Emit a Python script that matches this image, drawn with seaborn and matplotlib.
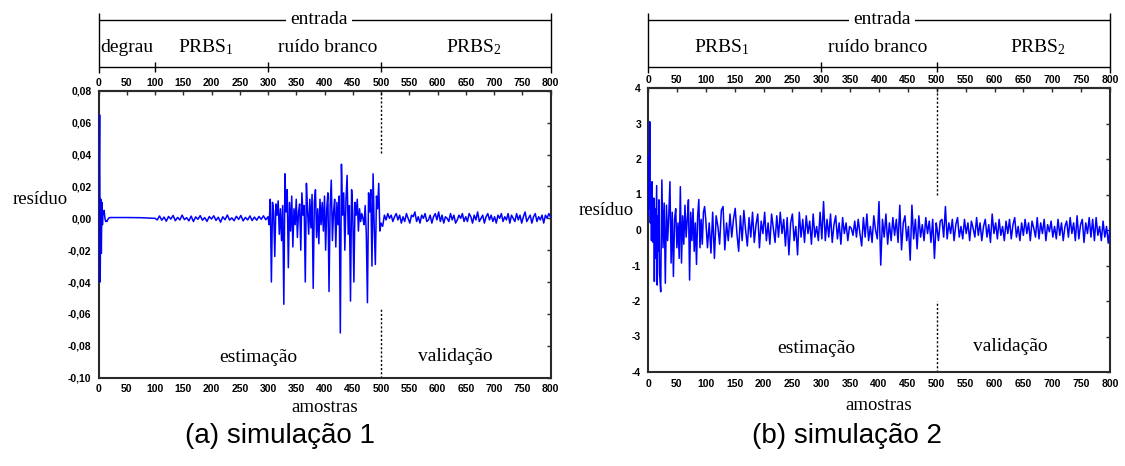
import numpy as np
import pandas as pd
import matplotlib
matplotlib.use("Agg")
import matplotlib.pyplot as plt
import seaborn as sns

# ------------------------------------------------------------------
# DATA
# ------------------------------------------------------------------
x_ticks = [0, 50, 100, 150, 200, 250, 300, 350, 400, 450, 500, 550, 600, 650, 700, 750, 800]
x_tick_labels = [str(v) for v in x_ticks]

a_y_ticks = [0.08, 0.06, 0.04, 0.02, 0.00, -0.02, -0.04, -0.06, -0.08, -0.10]
a_y_labels = ["0,08", "0,06", "0,04", "0,02", "0,00", "-0,02", "-0,04", "-0,06", "-0,08", "-0,10"]
b_y_ticks = [4, 3, 2, 1, 0, -1, -2, -3, -4]
b_y_labels = ["4", "3", "2", "1", "0", "-1", "-2", "-3", "-4"]

# simulação 1 : segments (first sample, sample step, residual values)
a_init = [0.000, 0.020, 0.065, -0.040, 0.012, -0.022, 0.010, -0.004, 0.004, 0.003,
          0.005, 0.001, -0.001, -0.002, -0.0015, -0.002, -0.001, -0.0005, 0.0, 0.0003,
          0.0005, 0.0005, 0.0005, 0.0005, 0.0005]
a_step = [0.0005, 0.0005, 0.0004]
a_prbs1 = [0.000, -0.001, 0.0015, -0.0012, 0.0008, -0.0018, 0.0012, -0.0005, 0.0018, -0.0015,
           0.0006, -0.0010, 0.0020, -0.0008, 0.0004, -0.0016, 0.0014, -0.0020, 0.0009, -0.0006,
           0.0017, -0.0012, 0.0005, -0.0019, 0.0011, -0.0004, 0.0016, -0.0013, 0.0007, -0.0024,
           0.0010, -0.0009, 0.0021, -0.0011, 0.0003, -0.0015, 0.0013, -0.0007, 0.0018, -0.0016,
           0.0006, -0.0010, 0.0015, -0.0014, 0.0008, -0.0012, 0.0012, -0.0006, 0.0016, -0.0009]
a_ruido = [0.001, -0.004, 0.012, -0.040, 0.010, 0.004, -0.024, 0.009, 0.002, 0.011,
           -0.010, 0.006, -0.014, 0.008, -0.054, 0.028, 0.004, 0.018, -0.031, 0.010,
           -0.008, 0.014, -0.018, 0.006, -0.004, 0.012, -0.012, 0.004, 0.009, -0.020,
           0.016, 0.002, 0.008, -0.040, 0.022, 0.005, -0.010, 0.012, -0.006, 0.015,
           -0.044, 0.010, 0.018, -0.012, 0.006, -0.016, 0.012, -0.004, 0.010, -0.008,
           0.014, -0.020, 0.006, 0.016, -0.046, 0.008, 0.024, -0.014, 0.004, 0.012,
           -0.018, 0.010, -0.004, 0.014, -0.072, 0.034, 0.002, 0.016, -0.020, 0.012,
           0.027, -0.010, 0.008, -0.052, 0.018, 0.004, -0.040, 0.010, 0.002, 0.012,
           -0.008, 0.006, -0.002, 0.003, 0.000, -0.004, 0.008, -0.010, -0.053, 0.016,
           0.004, 0.018, -0.030, 0.028, -0.006, -0.029, 0.014, 0.006, 0.022, -0.008]
a_prbs2 = [-0.003, -0.005, 0.002, -0.001, 0.003, 0.000, 0.002, -0.002, 0.001, 0.003,
           -0.001, 0.002, -0.003, 0.001, -0.002, 0.003, 0.000, -0.003, 0.002, 0.001,
           0.004, -0.002, 0.001, -0.003, 0.002, 0.000, 0.003, -0.002, -0.001, 0.002,
           -0.003, 0.001, 0.003, -0.001, 0.004, -0.002, 0.002, -0.003, 0.001, 0.000,
           -0.002, 0.003, -0.001, 0.002, -0.003, -0.001, 0.002, 0.000, 0.003, -0.002,
           0.001, -0.002, 0.003, 0.001, -0.003, 0.002, -0.001, 0.004, -0.002, 0.000,
           0.002, -0.003, 0.001, 0.003, -0.001, 0.002, -0.002, 0.001, -0.003, 0.002,
           0.000, 0.003, -0.002, 0.001, -0.001, 0.003, -0.003, 0.002, 0.000, -0.002,
           0.003, -0.001, 0.002, -0.003, 0.001, 0.004, -0.002, 0.000, 0.002, -0.003,
           0.001, 0.003, -0.002, 0.001, -0.001, 0.002, -0.003, 0.002, 0.000, 0.003,
           0.001]
a_segments = [(0, 1, a_init), (25, 25, a_step), (100, 4, a_prbs1), (300, 2, a_ruido), (500, 3, a_prbs2)]

# simulação 2
b_init = [0.4, 2.1, 0.6, 3.05, 0.2, 1.3, -0.3, 1.36, 0.2, -0.35,
          0.9, -1.45, 0.6, -0.8, 0.2, 1.25, -1.55, 0.4, -0.6, 0.85]
b_early = [-1.22, -1.74, 1.41, -0.5, 0.76, -1.5, 0.7, -0.3, 0.4, 1.36,
           -0.93, 0.5, -1.31, 0.3, 0.6, -0.5, 0.2, -0.8, 1.22, -0.93,
           0.4, -0.4, 0.7, -0.2, 0.3, 0.85, -1.41, 0.5, -0.3, 0.6,
           -0.6, 0.2, -0.97, 0.4, 0.86, -0.5, 0.3, -0.4, 0.5, 0.66]
b_mid = [0.3, -0.5, 0.2, -0.65, 0.5, -0.8, 0.4, 0.1, -0.4, 0.55,
         0.66, -0.56, 0.2, -0.3, 0.45, -0.2, 0.3, 0.61, -0.1, -0.6,
         0.4, -0.3, 0.55, 0.0, -0.45, 0.35, -0.2, 0.5, -0.35, 0.15,
         0.45, -0.5, 0.25, -0.1, 0.5, -0.3, 0.2, -0.4, 0.45, 0.05,
         -0.35, 0.4, -0.2, 0.5, -0.1, 0.3, -0.45, 0.35, -0.7, 0.2,
         0.45, -0.3, 0.1, -0.7, 0.5, -0.2, 0.3, -0.35, 0.4, -0.1,
         0.25, -0.4, 0.45, -0.2, 0.1, -0.3, 0.5, -0.25, 0.8, -0.3,
         0.3, -0.2, 0.45, -0.35, 0.15, 0.4, -0.25, 0.2, -0.4, 0.35,
         -0.1, 0.2, -0.3, 0.1, 0.05, -0.15, 0.25, -0.2, 0.3, -0.1,
         -0.45, 0.35, -0.2, 0.45, -0.3, 0.1, -0.35, 0.4, 0.0, -0.25,
         0.8, -0.99, 0.3, -0.2, 0.45, -0.4, 0.2, -0.3, 0.35, -0.15,
         0.3, -0.35, 0.7, -0.56, 0.2, 0.4, -0.3, 0.1, -0.85, 0.7,
         -0.25, 0.3, -0.53, 0.4, -0.2, 0.15, -0.3, 0.35, -0.1, 0.25,
         -0.35, 0.3, -0.8, 0.2]
b_prbs2 = [0.1, -0.3, 0.25, 0.3, -0.2, 0.66, -0.25, 0.2, -0.1, 0.3,
           -0.3, 0.15, 0.35, -0.2, 0.1, -0.25, 0.3, -0.1, 0.2, -0.3,
           0.25, 0.05, -0.2, 0.35, -0.15, 0.2, -0.3, 0.1, 0.3, -0.2,
           0.15, -0.35, 0.45, -0.1, 0.2, -0.25, 0.3, -0.15, 0.1, -0.3,
           0.25, -0.1, 0.3, -0.25, 0.15, 0.35, -0.2, 0.1, -0.3, 0.2,
           -0.15, 0.3, -0.1, 0.2, -0.3, 0.25, 0.05, -0.2, 0.35, -0.25,
           0.2, -0.1, 0.3, -0.3, 0.15, -0.05, 0.25, -0.2, 0.1, -0.25,
           0.3, -0.15, 0.2, -0.3, 0.1, 0.25, -0.2, 0.35, -0.1, 0.2,
           -0.3, 0.4, -0.25, 0.15, 0.3, -0.35, 0.2, -0.1, 0.35, -0.2,
           0.3, -0.3, 0.35, -0.15, 0.1, -0.3, 0.25, -0.2, 0.1, -0.37,
           0.05]
b_segments = [(0, 1, b_init), (20, 2, b_early), (100, 3, b_mid), (500, 3, b_prbs2)]

a_regions = ["degrau", "PRBS$_\\mathrm{1}$", "ruído branco", "PRBS$_\\mathrm{2}$"]
a_region_marks = [100, 300, 500]
b_regions = ["PRBS$_\\mathrm{1}$", "ruído branco", "PRBS$_\\mathrm{2}$"]
b_region_marks = [300, 500]


def build_frame(segments):
    xs, ys = [], []
    for start, step, vals in segments:
        xs.append(start + step * np.arange(len(vals)))
        ys.append(np.asarray(vals, dtype=float))
    return pd.DataFrame({"amostras": np.concatenate(xs), "residuo": np.concatenate(ys)})


# ------------------------------------------------------------------
# STYLE / LAYOUT
# ------------------------------------------------------------------
sns.set_theme(style="white")
plt.rcParams["font.family"] = ["Liberation Sans", "DejaVu Sans"]
plt.rcParams["mathtext.fontset"] = "custom"
plt.rcParams["mathtext.rm"] = "Liberation Serif"
plt.rcParams["mathtext.it"] = "Liberation Serif:italic"
for key in ["text.color", "axes.labelcolor", "xtick.color", "ytick.color"]:
    plt.rcParams[key] = "black"

W, H = 1125, 466
fig = plt.figure(figsize=(W / 100, H / 100), dpi=100)
fig.patch.set_facecolor("white")

SERIF = "Liberation Serif"
SPINE = "#2a2a2a"
LINE = "#0000ff"


def fxy(px, py):
    return px / W, 1 - py / H


panels = [
    dict(df=build_frame(a_segments), left=98.5, right=550.5, top=91, bottom=377.5,
         ylim=(-0.10, 0.08), yt=a_y_ticks, yl=a_y_labels,
         regions=a_regions, region_x=[3, 190, 405, 665], region_ha=["left", "center", "center", "center"],
         marks=a_region_marks, entrada_x=390,
         dot_hi=(0.041, 0.08), dot_lo=(-0.10, -0.057),
         est=(283, -0.0875), val=(632, -0.0868),
         resid=(40, 200), amostras=(324.5, 408), caption=(280, 436), cap="(a) simulação 1"),
    dict(df=build_frame(b_segments), left=648, right=1110, top=88, bottom=372,
         ylim=(-4, 4), yt=b_y_ticks, yl=b_y_labels,
         regions=b_regions, region_x=[128, 397, 675], region_ha=["center", "center", "center"],
         marks=b_region_marks, entrada_x=405,
         dot_hi=(1.0, 4.0), dot_lo=(-4.0, -2.0),
         est=(291, -3.35), val=(628, -3.29),
         resid=(606, 211), amostras=(879, 406), caption=(847, 436), cap="(b) simulação 2"),
]

for p in panels:
    l, r, t, b = p["left"], p["right"], p["top"], p["bottom"]
    x0, y0 = fxy(l, b)
    ax = fig.add_axes([x0, y0, (r - l) / W, (b - t) / H])
    sns.lineplot(data=p["df"], x="amostras", y="residuo", ax=ax, color=LINE,
                 linewidth=1.1, estimator=None, sort=False, zorder=3)
    ax.set_xlim(0, 800)
    ax.set_ylim(*p["ylim"])
    ax.set_xlabel("")
    ax.set_ylabel("")
    ax.set_xticks(x_ticks)
    ax.set_xticklabels(x_tick_labels)
    ax.set_yticks(p["yt"])
    ax.set_yticklabels(p["yl"])
    ax.tick_params(axis="both", direction="in", length=3, width=1, color=SPINE,
                   top=False, right=True, labelsize=7.5)
    ax.tick_params(axis="x", pad=5)
    ax.tick_params(axis="y", pad=5)
    for s in ax.spines.values():
        s.set_color(SPINE)
        s.set_linewidth(1.5)
    for lab in ax.get_xticklabels() + ax.get_yticklabels():
        lab.set_fontweight("bold")
        lab.set_family("Liberation Sans")

    sec = ax.secondary_xaxis("top")
    sec.set_xticks(x_ticks)
    sec.set_xticklabels(x_tick_labels)
    sec.tick_params(direction="in", length=3, width=1, color=SPINE, labelsize=7.5, pad=2)
    sec.spines["top"].set_color(SPINE)
    sec.spines["top"].set_linewidth(1.5)
    for lab in sec.get_xticklabels():
        lab.set_fontweight("bold")

    # dotted separator estimação / validação
    ax.vlines(500, *p["dot_hi"], colors="black", linestyles=(0, (1.5, 1.5)), linewidth=1)
    ax.vlines(500, *p["dot_lo"], colors="black", linestyles=(0, (1.5, 1.5)), linewidth=1)
    ax.text(*p["est"], "estimação", ha="center", va="center", family=SERIF, fontsize=14)
    ax.text(*p["val"], "validação", ha="center", va="center", family=SERIF, fontsize=14)

    # header bracket ("entrada")
    hx0, hy0 = fxy(l, t)
    hax = fig.add_axes([hx0, hy0, (r - l) / W, t / H])
    hax.set_xlim(0, 800)
    hax.set_ylim(t, 0)
    hax.axis("off")
    hax.plot([0, 800], [20, 20], color="black", lw=1, clip_on=False)
    hax.plot([0, 800], [67, 67], color="black", lw=1, clip_on=False)
    hax.vlines([0, 800], 13, 73, colors="black", lw=1, clip_on=False)
    hax.vlines(p["marks"], 62, 72, colors="black", lw=1, clip_on=False)
    hax.text(p["entrada_x"], 20, "entrada", ha="center", va="center", family=SERIF,
             fontsize=14, bbox=dict(facecolor="white", edgecolor="none", pad=3))
    for txt, xx, ha in zip(p["regions"], p["region_x"], p["region_ha"]):
        hax.text(xx, 47, txt, ha=ha, va="center", family=SERIF, fontsize=14)

    fig.text(*fxy(*p["resid"]), "resíduo", ha="center", va="center", family=SERIF, fontsize=13.5)
    fig.text(*fxy(*p["amostras"]), "amostras", ha="center", va="center", family=SERIF, fontsize=13.5)
    fig.text(*fxy(*p["caption"]), p["cap"], ha="center", va="center",
             family="Liberation Sans", fontsize=20)

fig.savefig("out.png", dpi=100, facecolor="white")
